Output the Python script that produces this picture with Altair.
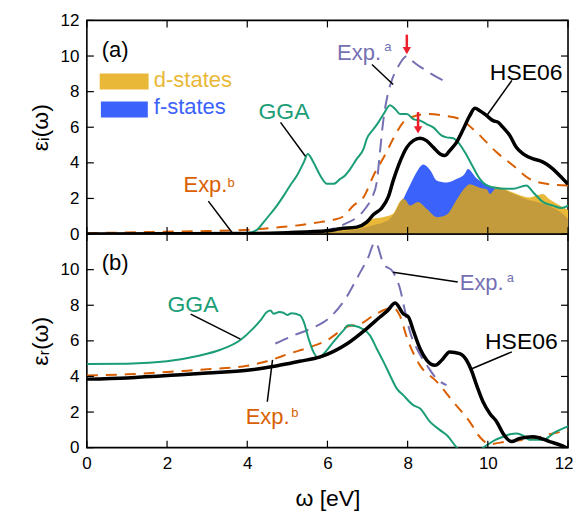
import altair as alt
import pandas as pd

# ---------------- data ----------------
# panel (a): imaginary part
gga_a_x = [0, 2, 3.5, 4.0, 4.25, 4.41, 4.58, 4.74, 4.91, 5.07, 5.24, 5.41, 5.51, 5.65, 5.82, 5.99, 6.15, 6.32, 6.44, 6.57, 6.73, 6.9, 6.98, 7.15, 7.27, 7.4, 7.56, 7.69, 7.81, 7.98, 8.14, 8.31, 8.47, 8.64, 8.85, 8.97, 9.14, 9.26, 9.43, 9.59, 9.8, 9.97, 10.13, 10.46, 10.63, 10.96, 11.13, 11.38, 11.62, 11.83, 12]
gga_a_y = [0, 0, 0.02, 0.06, 0.25, 0.67, 1.14, 1.6, 2.16, 2.73, 3.29, 4.03, 4.5, 4.03, 3.29, 2.82, 2.82, 3.1, 3.29, 3.66, 4.22, 4.78, 5.34, 5.9, 6.27, 6.74, 7.24, 7.02, 6.74, 6.74, 6.46, 6.37, 6.18, 5.99, 5.53, 5.43, 5.38, 5.15, 4.59, 3.94, 3.1, 2.73, 2.63, 2.54, 2.54, 2.73, 2.35, 1.79, 1.6, 1.46, 1.6]

hse_a_x = [0, 2, 4, 5, 6, 6.32, 6.73, 6.98, 7.15, 7.35, 7.52, 7.64, 7.78, 7.98, 8.14, 8.31, 8.47, 8.64, 8.81, 8.93, 9.05, 9.22, 9.39, 9.55, 9.68, 9.8, 9.97, 10.13, 10.26, 10.38, 10.55, 10.71, 10.88, 11.13, 11.29, 11.46, 11.62, 11.79, 12]
hse_a_y = [0, 0.01, 0.03, 0.08, 0.18, 0.3, 0.39, 0.67, 1.1, 1.45, 2.1, 3.0, 3.9, 4.87, 5.25, 5.38, 5.25, 4.87, 4.5, 4.41, 4.69, 5.15, 5.9, 6.65, 7.06, 6.93, 6.65, 6.37, 6.27, 5.99, 5.53, 4.87, 4.5, 4.22, 4.13, 3.94, 3.66, 3.29, 2.8]

expa_a_x = [5.3, 5.82, 6.36, 6.94, 7.1, 7.23, 7.31, 7.4, 7.5, 7.6, 7.75, 7.99, 8.14, 8.47, 8.97]
expa_a_y = [0.05, 0.15, 0.49, 1.42, 2.0, 2.9, 4.6, 6.5, 7.8, 8.6, 9.35, 10.0, 9.68, 9.17, 8.52]

expb_a_x = [0, 1, 2, 3, 3.6, 4.3, 4.83, 5.3, 5.82, 6.15, 6.4, 6.65, 6.9, 7.15, 7.45, 7.64, 7.89, 8.15, 8.47, 8.9, 9.3, 9.72, 10.22, 10.63, 11.04, 11.46, 12]
expb_a_y = [0.05, 0.09, 0.13, 0.17, 0.2, 0.28, 0.39, 0.5, 0.67, 0.8, 1.0, 1.6, 2.07, 3.29, 4.5, 5.35, 6.27, 6.6, 6.74, 6.65, 6.46, 5.71, 4.59, 3.85, 3.1, 2.82, 2.73]

dlight_x = [0, 5.5, 6.0, 6.5, 6.82, 7.14, 7.39, 7.64, 7.8, 7.9, 8.06, 8.23, 8.4, 8.7, 9.0, 9.3, 9.5, 9.8, 10.0, 10.22, 10.5, 10.72, 11.04, 11.2, 11.37, 11.54, 11.8, 12]
dlight_y = [0.03, 0.06, 0.12, 0.3, 0.5, 0.86, 0.95, 1.14, 1.8, 2.0, 1.7, 1.9, 1.6, 1.05, 1.2, 2.1, 2.85, 2.65, 2.55, 2.65, 2.45, 2.25, 2.05, 2.15, 2.25, 1.95, 1.6, 1.35]

ddark_x = [0, 5.5, 6.0, 6.5, 6.82, 7.14, 7.39, 7.56, 7.73, 7.85, 7.92, 8.06, 8.26, 8.48, 8.73, 8.98, 9.23, 9.43, 9.55, 9.8, 9.98, 10.05, 10.22, 10.55, 10.97, 11.37, 11.8, 12]
ddark_y = [0.01, 0.03, 0.08, 0.18, 0.3, 0.5, 0.65, 0.86, 1.4, 1.9, 1.95, 1.6, 1.8, 1.4, 0.95, 1.1, 1.95, 2.6, 2.8, 2.6, 2.5, 2.25, 2.6, 2.35, 1.95, 1.7, 1.25, 0.85]

fblue_x = [7.5, 7.7, 7.89, 8.06, 8.23, 8.39, 8.56, 8.73, 8.98, 9.23, 9.43, 9.5, 9.73, 10.05, 10.3, 10.5]
fblue_y = [0, 1.0, 1.95, 2.75, 3.5, 3.9, 3.6, 3.0, 2.9, 3.1, 3.4, 3.65, 3.1, 2.7, 2.3, 0.0]

# panel (b): real part
gga_b_x = [0, 1, 2, 2.76, 3.33, 3.83, 4.15, 4.33, 4.49, 4.58, 4.66, 4.8, 4.9, 5.0, 5.1, 5.32, 5.41, 5.53, 5.65, 5.78, 5.95, 6.15, 6.4, 6.52, 6.69, 6.86, 7.06, 7.23, 7.4, 7.56, 7.73, 7.89, 8.14, 8.31, 8.56, 8.8, 8.98, 9.23, 9.5, 9.75, 9.98, 10.2, 10.37, 10.55, 10.72, 10.9, 11.04, 11.37, 11.7, 12]
gga_b_y = [4.7, 4.72, 4.85, 5.15, 5.5, 6.05, 6.7, 7.15, 7.62, 7.7, 7.52, 7.62, 7.58, 7.45, 7.55, 7.43, 7.06, 6.12, 5.38, 5.04, 5.38, 5.94, 6.59, 6.87, 6.83, 6.69, 6.31, 5.56, 4.82, 4.07, 3.32, 2.95, 2.39, 2.2, 1.45, 1.0, 0.7, 0.0, -0.4, -0.2, 0.15, 0.45, 0.6, 0.75, 0.8, 0.65, 0.45, 0.45, 0.9, 1.2]

hse_b_x = [0, 1, 2.34, 3.0, 4.0, 4.75, 5.3, 5.82, 6.49, 6.98, 7.31, 7.5, 7.69, 7.89, 8.02, 8.14, 8.31, 8.48, 8.68, 8.85, 9.05, 9.3, 9.47, 9.59, 9.72, 9.88, 10.05, 10.22, 10.38, 10.59, 10.8, 11.13, 11.54, 11.96, 12]
hse_b_y = [3.85, 3.92, 4.1, 4.2, 4.35, 4.6, 4.85, 5.1, 5.84, 6.69, 7.34, 7.7, 8.12, 7.52, 7.34, 6.59, 5.56, 4.91, 4.63, 4.91, 5.38, 5.28, 4.91, 4.35, 3.51, 2.58, 1.92, 1.46, 0.8, 0.34, 0.52, 0.62, 0.34, 0.0, -0.05]

expa_b_x = [4.7, 5.15, 5.65, 6.0, 6.4, 6.82, 7.0, 7.19, 7.4, 7.64, 7.81, 7.94, 8.06, 8.23, 8.48, 8.72, 8.97]
expa_b_y = [5.85, 6.3, 6.75, 7.2, 8.2, 9.86, 10.6, 11.54, 10.33, 9.86, 8.93, 7.62, 6.5, 5.56, 4.63, 3.88, 3.51]

expb_b_x = [0, 1, 2.34, 3.0, 4.0, 4.49, 5.07, 5.5, 6.0, 6.5, 6.82, 7.2, 7.64, 7.81, 7.98, 8.3, 8.73, 9.13, 9.55, 9.8, 10.05, 10.47, 11.12, 11.62, 12]
expb_b_y = [4.05, 4.12, 4.3, 4.4, 4.6, 4.85, 5.3, 5.6, 6.05, 6.8, 6.95, 7.5, 7.85, 7.4, 6.2, 4.65, 3.7, 2.6, 1.45, 0.6, 0.2, 0.35, 0.5, 0.8, 0.95]

x_ticks = [0, 2, 4, 6, 8, 10, 12]
y_ticks_a = [0, 2, 4, 6, 8, 10, 12]
y_ticks_b = [0, 2, 4, 6, 8, 10]

# annotations: label text, anchor x/y (data units)
ann_a_text = ["(a)", "d-states", "f-states", "GGA", "Exp.", "b", "Exp.", "a", "HSE06"]
ann_a_x = [0.37, 1.67, 1.67, 4.28, 2.41, 3.51, 6.24, 7.42, 10.05]
ann_a_y = [9.97, 8.24, 6.72, 6.44, 2.35, 2.63, 9.8, 10.31, 8.68]
ann_b_text = ["(b)", "GGA", "Exp.", "b", "Exp.", "a", "HSE06"]
ann_b_x = [0.37, 2.01, 3.96, 5.1, 9.3, 10.47, 9.93]
ann_b_y = [9.97, 7.62, 1.34, 1.74, 8.85, 9.3, 5.55]

# leader lines (x, y) -> (x2, y2)
lead_a = {"x": [4.83, 3.03, 7.11, 10.6], "y": [6.27, 1.85, 9.52, 8.63],
          "x2": [5.45, 3.63, 7.64, 9.98], "y2": [4.37, 0.06, 8.4, 6.67]}
lead_b = {"x": [2.59, 4.5, 7.64, 10.6], "y": [7.5, 2.58, 9.86, 5.38],
          "x2": [3.83, 4.63, 9.25, 9.6], "y2": [6.1, 4.93, 9.3, 4.43]}

# legend swatches
swatch = {"x": [0.32, 0.35], "x2": [1.54, 1.52], "y": [9.02, 7.45], "y2": [8.12, 6.55],
          "c": ["#E9B838", "#3B62FA"]}

# red arrows: x, top of shaft, head centre
arrow_x = [7.98, 8.26]
arrow_top = [11.2, 6.85]
arrow_head = [10.3, 5.85]

# ---------------- styling ----------------
FONT = "Liberation Sans"
W, H = 482, 214
GREEN, ORANGE, PURPLE = "#1B9E77", "#D95F02", "#7570B3"
LIGHT, DARK, BLUE, RED = "#E9B838", "#C49B3C", "#3B62FA", "#EE1F2D"

XS = alt.Scale(domain=[0, 12], nice=False)


def df(xs, ys):
    return pd.DataFrame({"x": xs, "y": ys})


def panel(ymax, y_vals, ytitle, lines, areas, ann, lead, show_x, extra=None):
    YS = alt.Scale(domain=[0, ymax], nice=False)
    if show_x:
        xenc = alt.X("x:Q", scale=XS, axis=alt.Axis(values=x_ticks, title="ω [eV]",
                                                     labelPadding=8, titlePadding=16,
                                                     labelFlush=True, labelFlushOffset=5))
    else:
        xenc = alt.X("x:Q", scale=XS, axis=None)
    yenc = alt.Y("y:Q", scale=YS, axis=alt.Axis(values=y_vals, title=ytitle,
                                                 labelPadding=8, titlePadding=8,
                                                 labelFlush=False))
    layers = []
    for xs, ys, col in areas:
        layers.append(alt.Chart(df(xs, ys)).mark_area(color=col, interpolate="monotone", opacity=1)
                      .encode(x=xenc, y=yenc))
    for xs, ys, col, w, dash in lines:
        kw = dict(color=col, strokeWidth=w, interpolate="monotone", clip=True)
        if dash:
            kw["strokeDash"] = dash
        layers.append(alt.Chart(df(xs, ys)).mark_line(**kw).encode(x=xenc, y=yenc))
    # leader lines
    layers.append(alt.Chart(pd.DataFrame(lead)).mark_rule(color="black", strokeWidth=1.5)
                  .encode(x=xenc, y=yenc, x2="x2:Q", y2="y2:Q"))
    if extra:
        layers.extend(extra(xenc, yenc))
    # annotations
    for txt, x, y, col, size in ann:
        layers.append(alt.Chart(pd.DataFrame({"x": [x], "y": [y], "t": [txt]}))
                      .mark_text(align="left", baseline="alphabetic", font=FONT,
                                 fontSize=size, color=col)
                      .encode(x=xenc, y=yenc, text="t:N"))
    # inward ticks on all four sides
    xt = pd.DataFrame({"x": x_ticks})
    yt = pd.DataFrame({"y": y_vals})
    layers.append(alt.Chart(xt).mark_rule(color="black", strokeWidth=1.2)
                  .encode(x=xenc, y=alt.value(0), y2=alt.value(7)))
    layers.append(alt.Chart(xt).mark_rule(color="black", strokeWidth=1.2)
                  .encode(x=xenc, y=alt.value(H), y2=alt.value(H - 7)))
    layers.append(alt.Chart(yt).mark_rule(color="black", strokeWidth=1.2)
                  .encode(y=yenc, x=alt.value(0), x2=alt.value(7)))
    layers.append(alt.Chart(yt).mark_rule(color="black", strokeWidth=1.2)
                  .encode(y=yenc, x=alt.value(W), x2=alt.value(W - 7)))
    return alt.layer(*layers).properties(width=W, height=H)


def extra_a(xenc, yenc):
    sw = pd.DataFrame(swatch)
    out = [alt.Chart(sw).mark_rect().encode(x=xenc, x2="x2:Q", y=yenc, y2="y2:Q",
                                             color=alt.Color("c:N", scale=None))]
    ar = pd.DataFrame({"x": arrow_x, "y": arrow_top, "y2": arrow_head})
    out.append(alt.Chart(ar).mark_rule(color=RED, strokeWidth=2.5).encode(x=xenc, y=yenc, y2="y2:Q"))
    hd = pd.DataFrame({"x": arrow_x, "y": arrow_head})
    out.append(alt.Chart(hd).mark_point(shape="triangle-down", filled=True, color=RED, size=70, opacity=1)
               .encode(x=xenc, y=yenc))
    return out


ann_cols_a = ["black", LIGHT, BLUE, GREEN, ORANGE, ORANGE, PURPLE, PURPLE, "black"]
ann_size_a = [22, 22, 22, 23, 22, 13, 22, 13, 23]
ann_cols_b = ["black", GREEN, ORANGE, ORANGE, PURPLE, PURPLE, "black"]
ann_size_b = [22, 23, 22, 13, 22, 13, 23]

pa = panel(12, y_ticks_a, "εᵢ(ω)",
           lines=[(expb_a_x, expb_a_y, ORANGE, 2, [11, 8]),
                  (expa_a_x, expa_a_y, PURPLE, 2, [14, 8]),
                  (gga_a_x, gga_a_y, GREEN, 2, None),
                  (hse_a_x, hse_a_y, "black", 3.5, None)],
           areas=[(dlight_x, dlight_y, LIGHT), (fblue_x, fblue_y, BLUE), (ddark_x, ddark_y, DARK)],
           ann=list(zip(ann_a_text, ann_a_x, ann_a_y, ann_cols_a, ann_size_a)),
           lead=lead_a, show_x=False, extra=extra_a)

pb = panel(12, y_ticks_b, "εᵣ(ω)",
           lines=[(expb_b_x, expb_b_y, ORANGE, 2, [11, 8]),
                  (expa_b_x, expa_b_y, PURPLE, 2, [14, 8]),
                  (gga_b_x, gga_b_y, GREEN, 2, None),
                  (hse_b_x, hse_b_y, "black", 3.5, None)],
           areas=[],
           ann=list(zip(ann_b_text, ann_b_x, ann_b_y, ann_cols_b, ann_size_b)),
           lead=lead_b, show_x=True)

chart = (alt.vconcat(pa, pb, spacing=0, bounds="flush")
         .properties(padding={"left": 20, "top": 2, "right": 0, "bottom": 0}, background="white")
         .configure_view(stroke="black", strokeWidth=1.6)
         .configure_axis(domain=False, ticks=False, grid=False, labelFont=FONT, labelFontSize=17,
                         titleFont=FONT, titleFontSize=23, titleFontWeight="normal",
                         labelColor="black", titleColor="black"))

chart.save("out.html", embed_options={"renderer": "svg", "actions": False})
